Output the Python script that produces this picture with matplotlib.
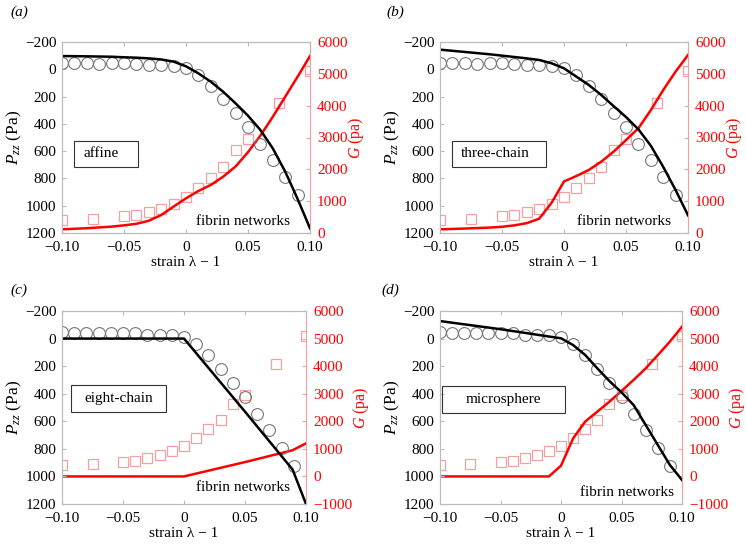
import numpy as np
import matplotlib
matplotlib.use('Agg')
import matplotlib.pyplot as plt
from matplotlib.patches import Rectangle

plt.rcParams['font.family'] = ['Liberation Serif', 'DejaVu Serif']
plt.rcParams['mathtext.fontset'] = 'custom'
plt.rcParams['mathtext.rm'] = 'Liberation Serif'
plt.rcParams['mathtext.it'] = 'Liberation Serif:italic'
plt.rcParams['font.size'] = 11

# experimental data (fibrin networks)
x_exp_p = [-0.10, -0.09, -0.08, -0.07, -0.06, -0.05, -0.04, -0.03, -0.02, -0.01,
           0.0, 0.01, 0.02, 0.03, 0.04, 0.05, 0.06, 0.07, 0.08, 0.09]
p_exp = [-49, -44, -44, -39, -44, -44, -39, -29, -29, -24,
         -12, 42, 120, 218, 323, 423, 545, 665, 792, 921]
x_exp_g = [-0.10, -0.075, -0.05, -0.04, -0.03, -0.02, -0.01, 0.0, 0.01, 0.02,
           0.03, 0.04, 0.05, 0.075, 0.10]
g_exp = [400, 450, 525, 555, 660, 765, 910, 1120, 1400, 1715,
         2060, 2620, 2940, 4085, 5090]

# model curves
x_aff = [-0.10, -0.08, -0.06, -0.05, -0.04, -0.03, -0.02, -0.01, 0.0, 0.01, 0.02,
         0.03, 0.04, 0.05, 0.06, 0.07, 0.08, 0.09, 0.10]
p_aff = [-97, -95, -92, -88, -85, -80, -72, -56, -22, 30, 91,
         165, 250, 340, 445, 580, 750, 950, 1166]
g_aff = [115, 150, 200, 240, 290, 385, 565, 830, 1090, 1320, 1510,
         1770, 2090, 2540, 3060, 3650, 4280, 4910, 5560]

x_three = [-0.10, -0.08, -0.06, -0.05, -0.04, -0.03, -0.02, -0.01, 0.0, 0.01, 0.02,
           0.03, 0.04, 0.05, 0.06, 0.07, 0.08, 0.09, 0.10]
p_three = [-144, -127, -110, -100, -90, -80, -68, -44, -7, 54, 115,
           188, 270, 350, 440, 560, 715, 885, 1070]
g_three = [115, 140, 170, 195, 240, 310, 450, 950, 1620, 1790, 1980,
           2240, 2555, 2920, 3290, 3860, 4490, 5070, 5590]

x_eight = [-0.10, 0.0, 0.05, 0.089, 0.10]
p_eight = [0, 0, 530, 950, 1200]
g_eight = [0, 0, 520, 950, 1200]

x_micro = [-0.10, -0.05, -0.01, 0.0, 0.01, 0.02, 0.03, 0.04, 0.05, 0.06, 0.07,
           0.08, 0.09, 0.10]
p_micro = [-127, -68, -15, -2, 47, 119, 216, 308, 390, 482, 627,
           772, 917, 1026]
g_micro = [0, 0, 0, 390, 1380, 1990, 2350, 2710, 3100, 3500, 3920,
           4400, 4890, 5430]

models = ['affine', 'three-chain', 'eight-chain', 'microsphere']
panel_tags = ['(a)', '(b)', '(c)', '(d)']
x_model = [x_aff, x_three, x_eight, x_micro]
p_model = [p_aff, p_three, p_eight, p_micro]
g_model = [g_aff, g_three, g_eight, g_micro]

xticks = [-0.10, -0.05, 0.0, 0.05, 0.10]
xticklabels = ['\u22120.10', '\u22120.05', '0', '0.05', '0.10']
pticks = [-200, 0, 200, 400, 600, 800, 1000, 1200]
gticks_ab = [0, 1000, 2000, 3000, 4000, 5000, 6000]
gticks_cd = [-1000, 0, 1000, 2000, 3000, 4000, 5000, 6000]

W, H = 746, 551
fig = plt.figure(figsize=(W / 100, H / 100), dpi=100)

# pixel boxes: left, top, right, bottom
boxes = [(62, 42, 310, 233), (440, 42, 688, 233),
         (62, 311, 306, 504), (440, 311, 682, 504)]
tag_pos = [(10, 12), (386, 12), (10, 290), (381, 290)]
# label box in axes fraction: x0, y0, w, h, text x (None = centred)
label_box = [(0.048, 0.346, 0.258, 0.136, 0.085),
             (0.048, 0.346, 0.379, 0.136, 0.085),
             (0.035, 0.477, 0.393, 0.140, None),
             (0.008, 0.472, 0.508, 0.140, None)]
fibrin_pos = [(0.92, 0.058), (0.93, 0.058), (0.935, 0.083), (0.965, 0.062)]

grey = '#bbbbbb'
pink = '#f4a0a0'

for i in range(4):
    l, t, r, b = boxes[i]
    ax = fig.add_axes([l / W, 1 - b / H, (r - l) / W, (b - t) / H])
    ax2 = ax.twinx()
    ax.set_zorder(ax2.get_zorder() + 1)
    ax.patch.set_visible(False)

    ax2.plot(x_exp_g, g_exp, 's', ms=7, mfc='none', mec=pink, mew=0.9)
    ax2.plot(x_model[i], g_model[i], '-', color='red', lw=1.8)
    ax.plot(x_exp_p, p_exp, 'o', ms=8.5, mfc='none', mec='#777777', mew=0.8)
    ax.plot(x_model[i], p_model[i], '-', color='black', lw=1.8)

    ax.set_xlim(-0.1, 0.1)
    ax.set_ylim(1200, -200)
    ax.set_xticks(xticks)
    ax.set_xticklabels(xticklabels)
    ax.set_yticks(pticks)
    ax.set_yticklabels([str(v).replace('-', '\u2212') for v in pticks])
    if i < 2:
        ax2.set_ylim(0, 6000)
        gt = gticks_ab
    else:
        ax2.set_ylim(-1000, 6000)
        gt = gticks_cd
    ax2.set_yticks(gt)
    ax2.set_yticklabels([str(v).replace('-', '\u2212') for v in gt])

    ax.tick_params(axis='y', direction='in', length=3, color=grey,
                   right=False, labelsize=11, pad=4)
    ax.tick_params(axis='x', direction='in', length=3, color=grey,
                   top=True, labelsize=11, pad=5.5)
    ax2.tick_params(axis='y', direction='in', length=3, color=pink,
                    labelcolor='red', labelsize=11, pad=5)
    for s in ['left', 'top', 'bottom']:
        ax.spines[s].set_color(grey)
        ax2.spines[s].set_color(grey)
    ax.spines['right'].set_visible(False)
    ax2.spines['right'].set_color(pink)

    ax.set_xlabel('strain \u03bb \u2212 1', fontsize=11, labelpad=2)
    ax.set_ylabel(r'$P_{zz}$ (Pa)', fontsize=12.5, labelpad=1)
    ax2.set_ylabel(r'$G$ (pa)', fontsize=11.5, color='red', labelpad=-1)

    x0, y0, w, h, tx = label_box[i]
    ax.add_patch(Rectangle((x0, y0), w, h, transform=ax.transAxes,
                           fill=False, ec='#333333', lw=0.8, zorder=5))
    if tx is None:
        ax.text(x0 + w / 2, y0 + h / 2, models[i], transform=ax.transAxes,
                ha='center', va='center', fontsize=11)
    else:
        ax.text(tx, y0 + h / 2, models[i], transform=ax.transAxes,
                ha='left', va='center', fontsize=11)
    fx, fy = fibrin_pos[i]
    ax.text(fx, fy, 'fibrin networks', transform=ax.transAxes,
            ha='right', va='center', fontsize=11)

    px, py = tag_pos[i]
    fig.text(px / W, 1 - py / H, panel_tags[i], fontsize=11,
             style='italic', ha='left', va='center')

plt.savefig('out.png', dpi=100)
